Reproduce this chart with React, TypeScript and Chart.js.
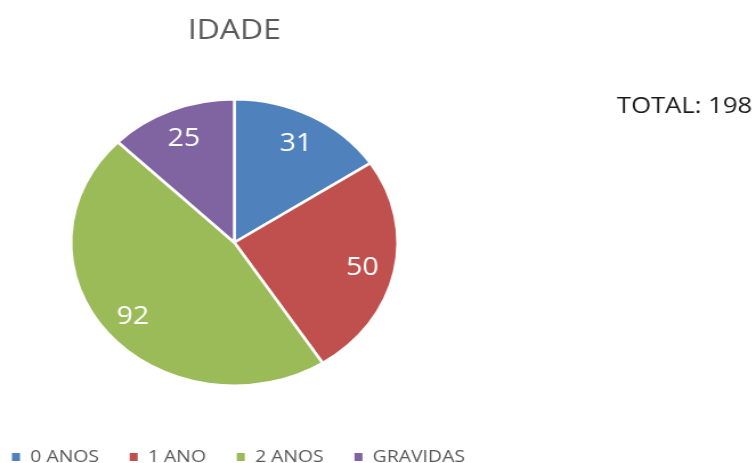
import React, { useEffect, useRef } from "react";
import { Chart, registerables } from "chart.js";

Chart.register(...registerables);

const TITLE = "IDADE";
const TOTAL_LABEL = "TOTAL: 198";
const categories = ["0 ANOS", "1 ANO", "2 ANOS", "GRAVIDAS"];
const values = [31, 50, 92, 25];
const colors = ["#4F81BD", "#C0504D", "#9BBB59", "#8064A2"];

const FONT = "'Open Sans', 'DejaVu Sans', sans-serif";
const STRETCH = 1.14;
const VIEW_W = 756;
const VIEW_H = 463;
const LOGICAL_W = Math.round(VIEW_W / STRETCH);

export default function App() {
  const ref = useRef<HTMLCanvasElement>(null);

  useEffect(() => {
    const canvas = ref.current!;
    const overlay = {
      id: "overlay",
      afterDraw(chart: any) {
        const ctx = chart.ctx as CanvasRenderingContext2D;
        const meta = chart.getDatasetMeta(0);
        const first = meta.data[0];
        const cx = first.x;
        ctx.save();
        // title
        ctx.fillStyle = "#595959";
        ctx.font = `28px ${FONT}`;
        ctx.textAlign = "center";
        ctx.textBaseline = "alphabetic";
        ctx.fillText(TITLE, cx, 39);
        // total
        ctx.fillStyle = "#1a1a1a";
        ctx.font = `22.5px ${FONT}`;
        ctx.textAlign = "left";
        ctx.fillText(TOTAL_LABEL, 541, 113);
        // value labels
        ctx.fillStyle = "#ffffff";
        ctx.font = `25px ${FONT}`;
        ctx.textAlign = "center";
        ctx.textBaseline = "middle";
        const data = chart.data.datasets[0].data as number[];
        meta.data.forEach((arc: any, i: number) => {
          const p = arc.getProps(["x", "y", "startAngle", "endAngle", "outerRadius"], true);
          const mid = (p.startAngle + p.endAngle) / 2;
          const r = p.outerRadius * 0.8;
          ctx.fillText(String(data[i]), p.x + Math.cos(mid) * r, p.y + Math.sin(mid) * r + 2);
        });
        // legend
        ctx.font = `17px ${FONT}`;
        ctx.textAlign = "left";
        ctx.textBaseline = "middle";
        const labels = chart.data.labels as string[];
        const bg = chart.data.datasets[0].backgroundColor as string[];
        let x = 10.5;
        const y = 457;
        labels.forEach((lab, i) => {
          ctx.fillStyle = bg[i];
          ctx.fillRect(x, y - 4, 7, 8);
          ctx.fillStyle = "#595959";
          const tx = x + 7 + 9;
          ctx.fillText(lab, tx, y);
          x = tx + ctx.measureText(lab).width + 27;
        });
        ctx.restore();
      },
    };

    const chart = new Chart(canvas, {
      type: "pie",
      data: {
        labels: categories,
        datasets: [
          {
            data: values,
            backgroundColor: colors,
            borderColor: "#ffffff",
            borderWidth: 2.5,
          },
        ],
      },
      options: {
        responsive: false,
        animation: false,
        devicePixelRatio: 1,
        layout: {
          padding: { top: 98, bottom: 76, left: 0, right: LOGICAL_W - 411 },
        },
        plugins: {
          legend: { display: false },
          title: { display: false },
          tooltip: { enabled: false },
        },
      },
      plugins: [overlay],
    });
    return () => chart.destroy();
  }, []);

  return (
    <div
      style={{
        position: "fixed",
        left: 0,
        top: 0,
        width: VIEW_W,
        height: VIEW_H,
        background: "#ffffff",
        overflow: "hidden",
      }}
    >
      <canvas
        ref={ref}
        width={LOGICAL_W}
        height={VIEW_H}
        style={{ width: VIEW_W + "px", height: VIEW_H + "px", display: "block" }}
      />
    </div>
  );
}
